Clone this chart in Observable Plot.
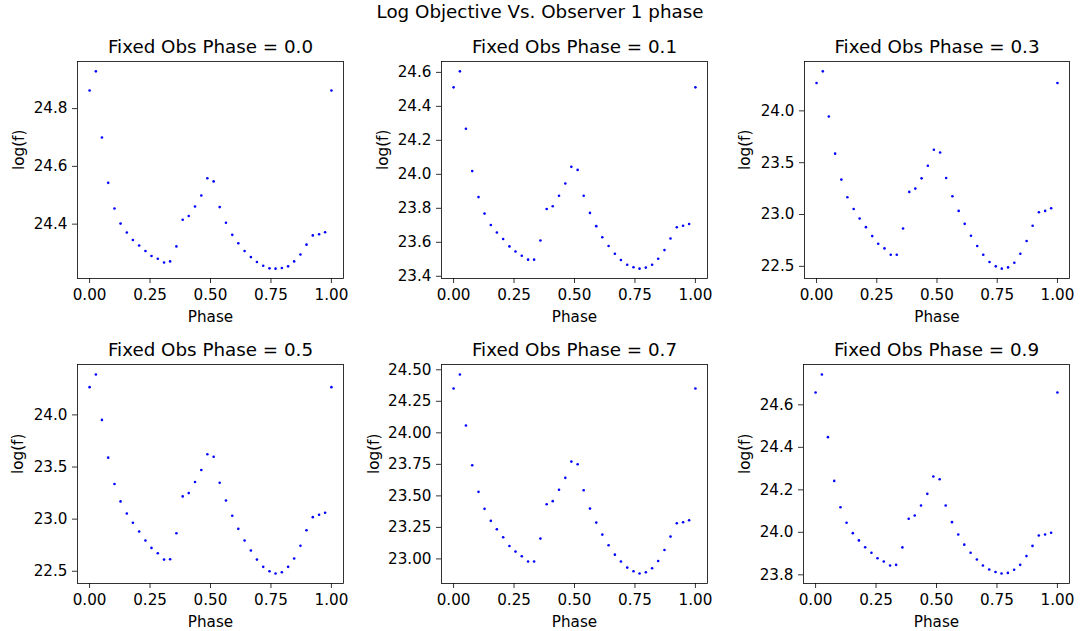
<!DOCTYPE html>
<html>
<head>
<meta charset="utf-8">
<script src="https://cdn.jsdelivr.net/npm/d3@7"></script>
<script src="https://cdn.jsdelivr.net/npm/@observablehq/plot@0.6"></script>
<style>
  html, body { margin: 0; padding: 0; background: #fff; }
  #fig { position: relative; width: 1080px; height: 631px; background: #fff; overflow: hidden; font-family: "DejaVu Sans", sans-serif; }
  #suptitle { position: absolute; left: 0; width: 1080px; top: 0; height: 24px; line-height: 24px; text-align: center; font-size: 18.3px; color: #000; }
  .panel { position: absolute; }
</style>
</head>
<body>
<div id="fig">
  <div id="suptitle">Log Objective Vs. Observer 1 phase</div>
</div>
<script>
const phase = [0.000, 0.026, 0.051, 0.077, 0.103, 0.128, 0.154, 0.179, 0.205, 0.231,
               0.256, 0.282, 0.308, 0.333, 0.359, 0.385, 0.410, 0.436, 0.462, 0.487,
               0.513, 0.538, 0.564, 0.590, 0.615, 0.641, 0.667, 0.692, 0.718, 0.744,
               0.769, 0.795, 0.821, 0.846, 0.872, 0.897, 0.923, 0.949, 0.974, 1.000];

const obs00 = [24.863, 24.929, 24.700, 24.543, 24.454, 24.402, 24.371, 24.345, 24.326, 24.307,
               24.290, 24.280, 24.267, 24.271, 24.323, 24.415, 24.428, 24.461, 24.499, 24.559,
               24.548, 24.459, 24.405, 24.363, 24.334, 24.307, 24.286, 24.269, 24.256, 24.247,
               24.246, 24.248, 24.254, 24.271, 24.295, 24.329, 24.361, 24.365, 24.372, 24.863];

const obs01 = [24.512, 24.606, 24.268, 24.019, 23.866, 23.769, 23.702, 23.658, 23.619, 23.576,
               23.546, 23.521, 23.498, 23.498, 23.611, 23.796, 23.812, 23.874, 23.946, 24.044,
               24.026, 23.874, 23.773, 23.695, 23.630, 23.578, 23.533, 23.496, 23.468, 23.453,
               23.445, 23.451, 23.468, 23.503, 23.554, 23.622, 23.689, 23.697, 23.708, 24.512];

const obs03 = [24.269, 24.381, 23.946, 23.587, 23.337, 23.167, 23.054, 22.962, 22.878, 22.792,
               22.718, 22.673, 22.612, 22.612, 22.865, 23.218, 23.250, 23.349, 23.471, 23.625,
               23.599, 23.353, 23.176, 23.035, 22.910, 22.795, 22.696, 22.612, 22.542, 22.500,
               22.478, 22.490, 22.535, 22.622, 22.744, 22.891, 23.022, 23.035, 23.061, 24.269];

const obs05 = [24.266, 24.388, 23.952, 23.590, 23.337, 23.170, 23.054, 22.965, 22.881, 22.795,
               22.724, 22.673, 22.612, 22.615, 22.865, 23.218, 23.250, 23.356, 23.471, 23.622,
               23.599, 23.349, 23.179, 23.032, 22.907, 22.795, 22.699, 22.612, 22.542, 22.500,
               22.478, 22.490, 22.542, 22.622, 22.744, 22.894, 23.019, 23.042, 23.061, 24.266];

const obs07 = [24.352, 24.463, 24.058, 23.743, 23.532, 23.397, 23.302, 23.235, 23.172, 23.103,
               23.058, 23.021, 22.979, 22.979, 23.161, 23.434, 23.458, 23.548, 23.643, 23.772,
               23.751, 23.545, 23.399, 23.288, 23.193, 23.108, 23.034, 22.979, 22.931, 22.902,
               22.884, 22.894, 22.926, 22.984, 23.071, 23.177, 23.283, 23.291, 23.307, 24.352];

const obs09 = [24.658, 24.743, 24.448, 24.242, 24.118, 24.045, 23.996, 23.962, 23.930, 23.904,
               23.878, 23.863, 23.844, 23.847, 23.929, 24.064, 24.079, 24.126, 24.181, 24.263,
               24.250, 24.126, 24.048, 23.990, 23.942, 23.904, 23.872, 23.844, 23.825, 23.813,
               23.806, 23.809, 23.824, 23.847, 23.888, 23.936, 23.985, 23.990, 23.998, 24.658];

const panelTitles = ["Fixed Obs Phase = 0.0", "Fixed Obs Phase = 0.1", "Fixed Obs Phase = 0.3",
                     "Fixed Obs Phase = 0.5", "Fixed Obs Phase = 0.7", "Fixed Obs Phase = 0.9"];
const xTicks = [0, 0.25, 0.5, 0.75, 1.0];
const yTicks00 = [24.4, 24.6, 24.8];
const yTicks01 = [23.4, 23.6, 23.8, 24.0, 24.2, 24.4, 24.6];
const yTicks03 = [22.5, 23.0, 23.5, 24.0];
const yTicks05 = [22.5, 23.0, 23.5, 24.0];
const yTicks07 = [23.00, 23.25, 23.50, 23.75, 24.00, 24.25, 24.50];
const yTicks09 = [23.8, 24.0, 24.2, 24.4, 24.6];
const xLabel = "Phase";
const yLabel = "log(f)";

const series = [obs00, obs01, obs03, obs05, obs07, obs09];
const yTickSets = [yTicks00, yTicks01, yTicks03, yTicks05, yTicks07, yTicks09];
const yFormats = [".1f", ".1f", ".1f", ".1f", ".2f", ".1f"];

// layout: [cellLeft, cellTop, frameLeft, frameTop, frameRight, frameBottom, ylabelOffset]
const layout = [
  [0,   30,  77, 61,  343,  278, 58],
  [360, 30,  441, 61, 707,  278, 58],
  [720, 30,  804, 61, 1069, 278, 59],
  [0,   330, 77, 364, 343,  583, 59],
  [360, 330, 441, 364, 707, 583, 67],
  [720, 330, 803, 364, 1069, 583, 58]
];

const fig = document.getElementById("fig");

series.forEach((vals, i) => {
  const [cl, ct, fl, ft, fr, fb, ylo] = layout[i];
  const W = 360, H = 300;
  const data = phase.map((p, k) => ({phase: p, value: vals[k]}));
  const lo = d3.min(vals), hi = d3.max(vals), pad = (hi - lo) * 0.05;
  const chart = Plot.plot({
    width: W,
    height: H,
    marginLeft: fl - cl,
    marginRight: cl + W - fr,
    marginTop: ft - ct,
    marginBottom: ct + H - fb,
    style: {fontFamily: "DejaVu Sans, sans-serif", fontSize: "15.2px", color: "#000", background: "transparent", overflow: "visible"},
    x: {domain: [-0.05, 1.05]},
    y: {domain: [lo - pad, hi + pad]},
    marks: [
      Plot.frame({stroke: "#000", strokeWidth: 0.8}),
      Plot.axisX({ticks: xTicks, tickFormat: ".2f", tickSize: 5, tickPadding: 6, label: null, strokeWidth: 0.8, strokeOpacity: 1}),
      Plot.axisY({ticks: yTickSets[i], tickFormat: yFormats[i], tickSize: 5, tickPadding: 5, label: null, strokeWidth: 0.8, strokeOpacity: 1}),
      Plot.dot(data, {x: "phase", y: "value", r: 1.3, fill: "#0000ff"}),
      Plot.text([panelTitles[i]], {frameAnchor: "top", lineAnchor: "middle", dy: -14.5, fontSize: 18.3, fill: "#000"}),
      Plot.text([xLabel], {frameAnchor: "bottom", lineAnchor: "middle", dy: 39, fill: "#000"}),
      Plot.text([yLabel], {frameAnchor: "left", lineAnchor: "middle", dx: -ylo, rotate: -90, fill: "#000"})
    ]
  });
  chart.classList.add("panel");
  chart.style.left = cl + "px";
  chart.style.top = ct + "px";
  fig.appendChild(chart);
});
</script>
</body>
</html>
